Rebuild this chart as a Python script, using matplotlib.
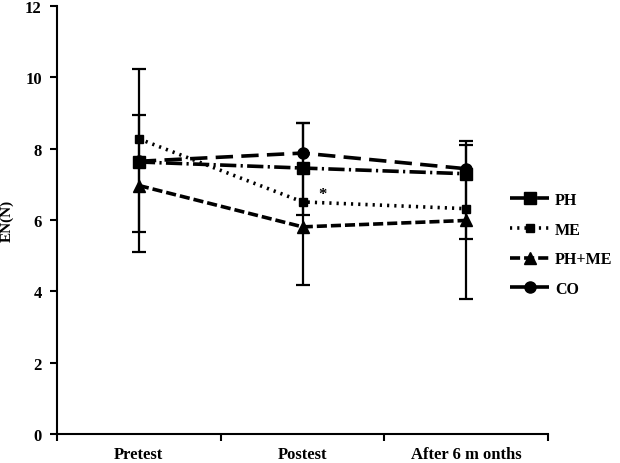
import matplotlib.pyplot as plt

categories = ['Pretest', 'Postest', 'After 6 m onths']
ph = [7.63, 7.46, 7.30]
me = [8.28, 6.51, 6.32]
ph_me = [6.97, 5.81, 5.99]
co = [7.65, 7.88, 7.44]

# error bar ends (two overlapping bars per time point)
bar1_low = [5.10, 4.19, 3.79]
bar1_high = [10.25, 8.71, 8.21]
bar2_low = [5.68, 6.15, 5.48]
bar2_high = [8.94, 8.71, 8.12]

star_y = 6.72

plt.rcParams['font.family'] = ['Liberation Serif', 'DejaVu Serif']
plt.rcParams['font.weight'] = 'bold'

fig = plt.figure(figsize=(6.2, 4.64), dpi=100)
ax = fig.add_axes([0.092, 0.0625, 0.792, 0.922])

x = list(range(len(categories)))
lw = 2.6

ax.plot(x, ph, color='black', lw=lw, marker='s', ms=9, dashes=(4.5, 1.2, 0.6, 1.2), label='PH')
ax.plot(x, me, color='black', lw=lw, marker='s', ms=6, dashes=(0.6, 1.4), label='ME')
ax.plot(x, ph_me, color='black', lw=lw, marker='^', ms=8, dashes=(2.8, 1.1), label='PH+ME')
ax.plot(x, co, color='black', lw=lw, marker='o', ms=8, dashes=(4.8, 2.3), label='CO')

for lo, hi in [(bar1_low, bar1_high), (bar2_low, bar2_high)]:
    mid = [(a + b) / 2 for a, b in zip(lo, hi)]
    ax.errorbar(x, mid, yerr=[[m - a for m, a in zip(mid, lo)], [b - m for m, b in zip(mid, hi)]],
                fmt='none', ecolor='black', elinewidth=1.6, capsize=5, capthick=1.6)

ax.text(1.12, star_y, '*', ha='center', va='center', fontsize=12)

ax.set_xlim(-0.5, 2.5)
ax.set_ylim(0, 12)
ax.set_yticks(range(0, 13, 2))
ax.set_xticks([-0.5, 0.5, 1.5, 2.5])
ax.set_xticklabels([])
ax.set_xticks(x, minor=True)
ax.set_xticklabels(categories, minor=True)
ax.tick_params(axis='x', which='minor', length=0, pad=9, labelsize=12)
ax.tick_params(axis='x', which='major', length=5, width=1.5)
ax.tick_params(axis='y', length=5, width=1.5, labelsize=12, pad=6)
ax.spines['top'].set_visible(False)
ax.spines['right'].set_visible(False)
ax.spines['left'].set_linewidth(1.5)
ax.spines['bottom'].set_linewidth(1.5)
ax.set_ylabel('EN(N)', fontsize=11, fontweight='bold', labelpad=8)

fig.legend(loc='upper left', bbox_to_anchor=(0.8, 0.615), frameon=False, fontsize=11.5,
           handlelength=2.4, labelspacing=0.85, handletextpad=0.4)

fig.savefig('out.png', dpi=100)
